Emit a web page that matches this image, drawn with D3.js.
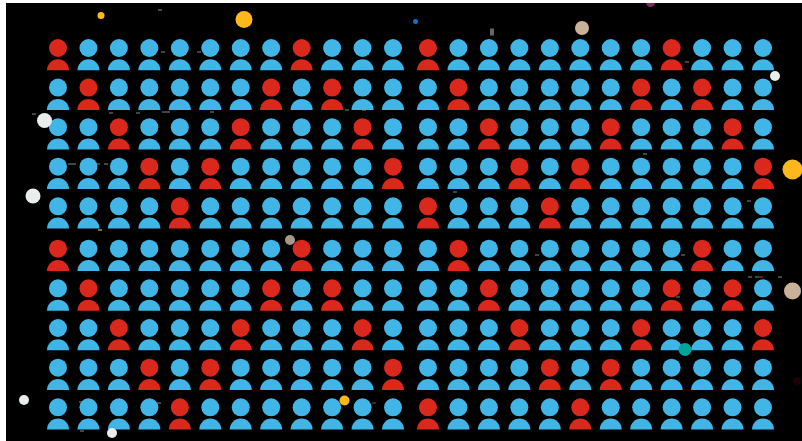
<!DOCTYPE html>
<html>
<head>
<meta charset="utf-8">
<script src="https://cdn.jsdelivr.net/npm/d3@7"></script>
<style>
  html, body { margin: 0; padding: 0; background: #fff; overflow: hidden; }
  #graphic { position: absolute; left: 6px; top: 3px; width: 796px; height: 438px; background: #000; overflow: hidden; }
  svg { display: block; position: absolute; left: -6px; top: -3px; filter: blur(0.35px); }
</style>
</head>
<body>
<div id="graphic"></div>
<script>
// columns holding a red figure, one list per row
const redByRow = [
  [0, 8, 12, 20],
  [1, 7, 9, 13, 19, 21],
  [2, 6, 10, 14, 18, 22],
  [3, 5, 11, 15, 17, 23],
  [4, 12, 16],
  [0, 8, 13, 21],
  [1, 7, 9, 14, 20, 22],
  [2, 6, 10, 15, 19, 23],
  [3, 5, 11, 16, 18],
  [4, 12, 17]
];

// confetti dots
const dotX = [101, 244, 415.5, 582, 650.5, 44.5, 775, 33, 792.5, 290, 792.5, 24, 112, 344.5, 685, 797];
const dotY = [15.5, 19.5, 21.5, 28, 2.5, 120.5, 76, 196, 169.5, 240, 291, 400, 433, 400.5, 349.5, 381];
const dotSize = [3.5, 8.5, 2.5, 7, 4.5, 7.5, 5, 7.5, 10, 5, 8.5, 5, 5, 5, 6.5, 4];
const dotKind = ["yellow", "yellow", "blue", "tan", "purple", "white", "white", "white", "yellow", "grey", "tan", "white", "white", "yellow", "teal", "maroon"];

// little specks
const speckX = [160, 34, 111, 138, 164, 168, 212, 163, 199, 347, 364, 529, 687, 70, 74, 98, 106, 100, 455, 645, 749, 537, 683, 750, 757, 761, 780, 678, 81, 82, 159, 374, 492];
const speckY = [10, 114, 113, 113, 112, 112, 112, 52, 52, 110, 110, 110, 62, 164, 164, 164, 164, 230, 192, 154, 201, 255, 255, 277, 277, 277, 277, 297, 402, 431, 403, 403, 32];
const speckKind = ["grey", "grey", "grey", "grey", "grey", "grey", "grey", "grey", "grey", "grey", "grey", "grey", "grey", "grey", "grey", "grey", "grey", "orange", "slate", "grey", "grey", "grey", "grey", "grey", "grey", "rust", "grey", "grey", "grey", "grey", "grey", "umber", "tall"];

const width = 802, height = 441;

const svg = d3.select('#graphic').append('svg')
  .attr('width', width)
  .attr('height', height);

// two blocks of columns and two blocks of rows, with a wider gutter between them
const xLeft = d3.scalePoint().domain(d3.range(12)).range([58, 393]);
const xRight = d3.scalePoint().domain(d3.range(12, 24)).range([428, 763]);
const yTop = d3.scalePoint().domain(d3.range(5)).range([48, 206.3]);
const yBottom = d3.scalePoint().domain(d3.range(5, 10)).range([248.7, 407.3]);
const x = c => c < 12 ? xLeft(c) : xRight(c);
const y = r => r < 5 ? yTop(r) : yBottom(r);

const colour = d3.scaleOrdinal()
  .domain([false, true])
  .range(['#41b6e6', '#da291c']);

const dotColour = d3.scaleOrdinal()
  .domain(["yellow", "blue", "tan", "purple", "white", "grey", "teal", "maroon"])
  .range(['#ffb81c', '#0a6fd0', '#c9b299', '#7d2a66', '#e9eeec', '#a8988a', '#00a499', '#1e0305']);

const speckColour = d3.scaleOrdinal()
  .domain(["grey", "orange", "slate", "rust", "umber", "tall"])
  .range(['#444', '#8a6a1e', '#1d4a5c', '#5a1a14', '#3a2a10', '#666']);

const cells = redByRow.flatMap((reds, r) =>
  d3.range(24).map(c => ({row: r, col: c, red: reds.includes(c)})));

const body = d3.arc()
  .innerRadius(0)
  .outerRadius(11)
  .startAngle(-Math.PI / 2)
  .endAngle(Math.PI / 2);

// specks sit behind the figures
svg.append('g')
  .selectAll('rect')
  .data(d3.range(speckX.length))
  .join('rect')
  .attr('x', i => speckX[i] - 2)
  .attr('y', i => speckY[i] - (speckKind[i] == "tall" ? 3.5 : 1))
  .attr('width', 4)
  .attr('height', i => speckKind[i] == "tall" ? 7 : 2)
  .attr('fill', i => speckColour(speckKind[i]));

const figures = svg.append('g')
  .selectAll('g')
  .data(cells)
  .join('g')
  .attr('fill', d => colour(d.red))
  .attr('transform', d => 'translate(' + x(d.col) + ',' + y(d.row) + ')');

figures.append('circle')
  .attr('r', 9);

figures.append('path')
  .attr('d', body)
  .attr('transform', 'translate(0,22.3)');

// confetti on top
svg.append('g')
  .selectAll('circle')
  .data(d3.range(dotX.length))
  .join('circle')
  .attr('cx', i => dotX[i])
  .attr('cy', i => dotY[i])
  .attr('r', i => dotSize[i])
  .attr('fill', i => dotColour(dotKind[i]));
</script>
</body>
</html>
